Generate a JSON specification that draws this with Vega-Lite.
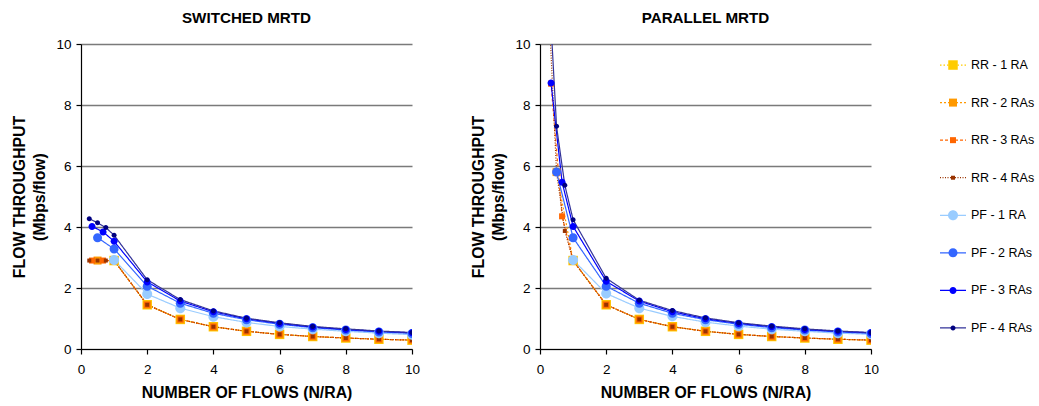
{
  "$schema": "https://vega.github.io/schema/vega-lite/v6.json",
  "background": "white",
  "padding": {"left": 11, "top": 10, "right": 0, "bottom": 0},
  "config": {
    "view": {"stroke": null},
    "font": "Liberation Sans",
    "axis": {
      "domainColor": "#000", "tickColor": "#000", "labelColor": "#000", "titleColor": "#000",
      "labelFont": "Liberation Sans", "titleFont": "Liberation Sans", "labelFontSize": 13.5,
      "titleFontSize": 15.8, "titleFontWeight": "bold", "tickSize": 5, "labelPadding": 5, "domainWidth": 1.2, "tickWidth": 1.2,
      "labelFlush": false
    },
    "title": {"font": "Liberation Sans", "fontSize": 15.2, "fontWeight": "bold", "color": "#000", "anchor": "middle", "offset": 11}
  },
  "datasets": {
    "main": [
      {"panel": "S", "series": "RR - 1 RA", "x": 1, "y": 2.9},
      {"panel": "S", "series": "RR - 1 RA", "x": 2, "y": 1.45},
      {"panel": "S", "series": "RR - 1 RA", "x": 3, "y": 0.97},
      {"panel": "S", "series": "RR - 1 RA", "x": 4, "y": 0.73},
      {"panel": "S", "series": "RR - 1 RA", "x": 5, "y": 0.58},
      {"panel": "S", "series": "RR - 1 RA", "x": 6, "y": 0.48},
      {"panel": "S", "series": "RR - 1 RA", "x": 7, "y": 0.41},
      {"panel": "S", "series": "RR - 1 RA", "x": 8, "y": 0.36},
      {"panel": "S", "series": "RR - 1 RA", "x": 9, "y": 0.32},
      {"panel": "S", "series": "RR - 1 RA", "x": 10, "y": 0.29},
      {"panel": "S", "series": "RR - 2 RAs", "x": 0.5, "y": 2.9},
      {"panel": "S", "series": "RR - 2 RAs", "x": 1, "y": 2.9},
      {"panel": "S", "series": "RR - 2 RAs", "x": 2, "y": 1.45},
      {"panel": "S", "series": "RR - 2 RAs", "x": 3, "y": 0.97},
      {"panel": "S", "series": "RR - 2 RAs", "x": 4, "y": 0.73},
      {"panel": "S", "series": "RR - 2 RAs", "x": 5, "y": 0.58},
      {"panel": "S", "series": "RR - 2 RAs", "x": 6, "y": 0.48},
      {"panel": "S", "series": "RR - 2 RAs", "x": 7, "y": 0.41},
      {"panel": "S", "series": "RR - 2 RAs", "x": 8, "y": 0.36},
      {"panel": "S", "series": "RR - 2 RAs", "x": 9, "y": 0.32},
      {"panel": "S", "series": "RR - 2 RAs", "x": 10, "y": 0.29},
      {"panel": "S", "series": "RR - 3 RAs", "x": 0.333, "y": 2.9},
      {"panel": "S", "series": "RR - 3 RAs", "x": 0.667, "y": 2.9},
      {"panel": "S", "series": "RR - 3 RAs", "x": 1, "y": 2.9},
      {"panel": "S", "series": "RR - 3 RAs", "x": 2, "y": 1.45},
      {"panel": "S", "series": "RR - 3 RAs", "x": 3, "y": 0.97},
      {"panel": "S", "series": "RR - 3 RAs", "x": 4, "y": 0.73},
      {"panel": "S", "series": "RR - 3 RAs", "x": 5, "y": 0.58},
      {"panel": "S", "series": "RR - 3 RAs", "x": 6, "y": 0.48},
      {"panel": "S", "series": "RR - 3 RAs", "x": 7, "y": 0.41},
      {"panel": "S", "series": "RR - 3 RAs", "x": 8, "y": 0.36},
      {"panel": "S", "series": "RR - 3 RAs", "x": 9, "y": 0.32},
      {"panel": "S", "series": "RR - 3 RAs", "x": 10, "y": 0.29},
      {"panel": "S", "series": "RR - 4 RAs", "x": 0.25, "y": 2.9},
      {"panel": "S", "series": "RR - 4 RAs", "x": 0.5, "y": 2.9},
      {"panel": "S", "series": "RR - 4 RAs", "x": 0.75, "y": 2.9},
      {"panel": "S", "series": "RR - 4 RAs", "x": 1, "y": 2.9},
      {"panel": "S", "series": "RR - 4 RAs", "x": 2, "y": 1.45},
      {"panel": "S", "series": "RR - 4 RAs", "x": 3, "y": 0.97},
      {"panel": "S", "series": "RR - 4 RAs", "x": 4, "y": 0.73},
      {"panel": "S", "series": "RR - 4 RAs", "x": 5, "y": 0.58},
      {"panel": "S", "series": "RR - 4 RAs", "x": 6, "y": 0.48},
      {"panel": "S", "series": "RR - 4 RAs", "x": 7, "y": 0.41},
      {"panel": "S", "series": "RR - 4 RAs", "x": 8, "y": 0.36},
      {"panel": "S", "series": "RR - 4 RAs", "x": 9, "y": 0.32},
      {"panel": "S", "series": "RR - 4 RAs", "x": 10, "y": 0.29},
      {"panel": "S", "series": "PF - 1 RA", "x": 1, "y": 2.92},
      {"panel": "S", "series": "PF - 1 RA", "x": 2, "y": 1.8},
      {"panel": "S", "series": "PF - 1 RA", "x": 3, "y": 1.34},
      {"panel": "S", "series": "PF - 1 RA", "x": 4, "y": 1.06},
      {"panel": "S", "series": "PF - 1 RA", "x": 5, "y": 0.87},
      {"panel": "S", "series": "PF - 1 RA", "x": 6, "y": 0.74},
      {"panel": "S", "series": "PF - 1 RA", "x": 7, "y": 0.65},
      {"panel": "S", "series": "PF - 1 RA", "x": 8, "y": 0.58},
      {"panel": "S", "series": "PF - 1 RA", "x": 9, "y": 0.52},
      {"panel": "S", "series": "PF - 1 RA", "x": 10, "y": 0.47},
      {"panel": "S", "series": "PF - 2 RAs", "x": 0.5, "y": 3.65},
      {"panel": "S", "series": "PF - 2 RAs", "x": 1, "y": 3.28},
      {"panel": "S", "series": "PF - 2 RAs", "x": 2, "y": 2.06},
      {"panel": "S", "series": "PF - 2 RAs", "x": 3, "y": 1.5},
      {"panel": "S", "series": "PF - 2 RAs", "x": 4, "y": 1.17},
      {"panel": "S", "series": "PF - 2 RAs", "x": 5, "y": 0.96},
      {"panel": "S", "series": "PF - 2 RAs", "x": 6, "y": 0.81},
      {"panel": "S", "series": "PF - 2 RAs", "x": 7, "y": 0.7},
      {"panel": "S", "series": "PF - 2 RAs", "x": 8, "y": 0.62},
      {"panel": "S", "series": "PF - 2 RAs", "x": 9, "y": 0.56},
      {"panel": "S", "series": "PF - 2 RAs", "x": 10, "y": 0.51},
      {"panel": "S", "series": "PF - 3 RAs", "x": 0.333, "y": 4.02},
      {"panel": "S", "series": "PF - 3 RAs", "x": 0.667, "y": 3.84},
      {"panel": "S", "series": "PF - 3 RAs", "x": 1, "y": 3.53},
      {"panel": "S", "series": "PF - 3 RAs", "x": 2, "y": 2.2},
      {"panel": "S", "series": "PF - 3 RAs", "x": 3, "y": 1.57},
      {"panel": "S", "series": "PF - 3 RAs", "x": 4, "y": 1.22},
      {"panel": "S", "series": "PF - 3 RAs", "x": 5, "y": 0.99},
      {"panel": "S", "series": "PF - 3 RAs", "x": 6, "y": 0.84},
      {"panel": "S", "series": "PF - 3 RAs", "x": 7, "y": 0.72},
      {"panel": "S", "series": "PF - 3 RAs", "x": 8, "y": 0.64},
      {"panel": "S", "series": "PF - 3 RAs", "x": 9, "y": 0.58},
      {"panel": "S", "series": "PF - 3 RAs", "x": 10, "y": 0.53},
      {"panel": "S", "series": "PF - 4 RAs", "x": 0.25, "y": 4.27},
      {"panel": "S", "series": "PF - 4 RAs", "x": 0.5, "y": 4.14},
      {"panel": "S", "series": "PF - 4 RAs", "x": 0.75, "y": 3.98},
      {"panel": "S", "series": "PF - 4 RAs", "x": 1, "y": 3.73},
      {"panel": "S", "series": "PF - 4 RAs", "x": 2, "y": 2.27},
      {"panel": "S", "series": "PF - 4 RAs", "x": 3, "y": 1.62},
      {"panel": "S", "series": "PF - 4 RAs", "x": 4, "y": 1.25},
      {"panel": "S", "series": "PF - 4 RAs", "x": 5, "y": 1.01},
      {"panel": "S", "series": "PF - 4 RAs", "x": 6, "y": 0.86},
      {"panel": "S", "series": "PF - 4 RAs", "x": 7, "y": 0.74},
      {"panel": "S", "series": "PF - 4 RAs", "x": 8, "y": 0.66},
      {"panel": "S", "series": "PF - 4 RAs", "x": 9, "y": 0.59},
      {"panel": "S", "series": "PF - 4 RAs", "x": 10, "y": 0.54},

      {"panel": "P", "series": "RR - 1 RA", "x": 1, "y": 2.9},
      {"panel": "P", "series": "RR - 1 RA", "x": 2, "y": 1.45},
      {"panel": "P", "series": "RR - 1 RA", "x": 3, "y": 0.97},
      {"panel": "P", "series": "RR - 1 RA", "x": 4, "y": 0.73},
      {"panel": "P", "series": "RR - 1 RA", "x": 5, "y": 0.58},
      {"panel": "P", "series": "RR - 1 RA", "x": 6, "y": 0.48},
      {"panel": "P", "series": "RR - 1 RA", "x": 7, "y": 0.41},
      {"panel": "P", "series": "RR - 1 RA", "x": 8, "y": 0.36},
      {"panel": "P", "series": "RR - 1 RA", "x": 9, "y": 0.32},
      {"panel": "P", "series": "RR - 1 RA", "x": 10, "y": 0.29},
      {"panel": "P", "series": "RR - 2 RAs", "x": 0.5, "y": 5.8},
      {"panel": "P", "series": "RR - 2 RAs", "x": 1, "y": 2.9},
      {"panel": "P", "series": "RR - 2 RAs", "x": 2, "y": 1.45},
      {"panel": "P", "series": "RR - 2 RAs", "x": 3, "y": 0.97},
      {"panel": "P", "series": "RR - 2 RAs", "x": 4, "y": 0.73},
      {"panel": "P", "series": "RR - 2 RAs", "x": 5, "y": 0.58},
      {"panel": "P", "series": "RR - 2 RAs", "x": 6, "y": 0.48},
      {"panel": "P", "series": "RR - 2 RAs", "x": 7, "y": 0.41},
      {"panel": "P", "series": "RR - 2 RAs", "x": 8, "y": 0.36},
      {"panel": "P", "series": "RR - 2 RAs", "x": 9, "y": 0.32},
      {"panel": "P", "series": "RR - 2 RAs", "x": 10, "y": 0.29},
      {"panel": "P", "series": "RR - 3 RAs", "x": 0.333, "y": 8.7},
      {"panel": "P", "series": "RR - 3 RAs", "x": 0.667, "y": 4.35},
      {"panel": "P", "series": "RR - 3 RAs", "x": 1, "y": 2.9},
      {"panel": "P", "series": "RR - 3 RAs", "x": 2, "y": 1.45},
      {"panel": "P", "series": "RR - 3 RAs", "x": 3, "y": 0.97},
      {"panel": "P", "series": "RR - 3 RAs", "x": 4, "y": 0.73},
      {"panel": "P", "series": "RR - 3 RAs", "x": 5, "y": 0.58},
      {"panel": "P", "series": "RR - 3 RAs", "x": 6, "y": 0.48},
      {"panel": "P", "series": "RR - 3 RAs", "x": 7, "y": 0.41},
      {"panel": "P", "series": "RR - 3 RAs", "x": 8, "y": 0.36},
      {"panel": "P", "series": "RR - 3 RAs", "x": 9, "y": 0.32},
      {"panel": "P", "series": "RR - 3 RAs", "x": 10, "y": 0.29},
      {"panel": "P", "series": "RR - 4 RAs", "x": 0.25, "y": 11.6},
      {"panel": "P", "series": "RR - 4 RAs", "x": 0.5, "y": 5.8},
      {"panel": "P", "series": "RR - 4 RAs", "x": 0.75, "y": 3.87},
      {"panel": "P", "series": "RR - 4 RAs", "x": 1, "y": 2.9},
      {"panel": "P", "series": "RR - 4 RAs", "x": 2, "y": 1.45},
      {"panel": "P", "series": "RR - 4 RAs", "x": 3, "y": 0.97},
      {"panel": "P", "series": "RR - 4 RAs", "x": 4, "y": 0.73},
      {"panel": "P", "series": "RR - 4 RAs", "x": 5, "y": 0.58},
      {"panel": "P", "series": "RR - 4 RAs", "x": 6, "y": 0.48},
      {"panel": "P", "series": "RR - 4 RAs", "x": 7, "y": 0.41},
      {"panel": "P", "series": "RR - 4 RAs", "x": 8, "y": 0.36},
      {"panel": "P", "series": "RR - 4 RAs", "x": 9, "y": 0.32},
      {"panel": "P", "series": "RR - 4 RAs", "x": 10, "y": 0.29},
      {"panel": "P", "series": "PF - 1 RA", "x": 1, "y": 2.92},
      {"panel": "P", "series": "PF - 1 RA", "x": 2, "y": 1.82},
      {"panel": "P", "series": "PF - 1 RA", "x": 3, "y": 1.34},
      {"panel": "P", "series": "PF - 1 RA", "x": 4, "y": 1.07},
      {"panel": "P", "series": "PF - 1 RA", "x": 5, "y": 0.88},
      {"panel": "P", "series": "PF - 1 RA", "x": 6, "y": 0.75},
      {"panel": "P", "series": "PF - 1 RA", "x": 7, "y": 0.65},
      {"panel": "P", "series": "PF - 1 RA", "x": 8, "y": 0.58},
      {"panel": "P", "series": "PF - 1 RA", "x": 9, "y": 0.52},
      {"panel": "P", "series": "PF - 1 RA", "x": 10, "y": 0.48},
      {"panel": "P", "series": "PF - 2 RAs", "x": 0.5, "y": 5.8},
      {"panel": "P", "series": "PF - 2 RAs", "x": 1, "y": 3.65},
      {"panel": "P", "series": "PF - 2 RAs", "x": 2, "y": 2.06},
      {"panel": "P", "series": "PF - 2 RAs", "x": 3, "y": 1.5},
      {"panel": "P", "series": "PF - 2 RAs", "x": 4, "y": 1.17},
      {"panel": "P", "series": "PF - 2 RAs", "x": 5, "y": 0.96},
      {"panel": "P", "series": "PF - 2 RAs", "x": 6, "y": 0.81},
      {"panel": "P", "series": "PF - 2 RAs", "x": 7, "y": 0.7},
      {"panel": "P", "series": "PF - 2 RAs", "x": 8, "y": 0.62},
      {"panel": "P", "series": "PF - 2 RAs", "x": 9, "y": 0.56},
      {"panel": "P", "series": "PF - 2 RAs", "x": 10, "y": 0.51},
      {"panel": "P", "series": "PF - 3 RAs", "x": 0.333, "y": 8.72},
      {"panel": "P", "series": "PF - 3 RAs", "x": 0.667, "y": 5.47},
      {"panel": "P", "series": "PF - 3 RAs", "x": 1, "y": 4.02},
      {"panel": "P", "series": "PF - 3 RAs", "x": 2, "y": 2.22},
      {"panel": "P", "series": "PF - 3 RAs", "x": 3, "y": 1.57},
      {"panel": "P", "series": "PF - 3 RAs", "x": 4, "y": 1.22},
      {"panel": "P", "series": "PF - 3 RAs", "x": 5, "y": 0.99},
      {"panel": "P", "series": "PF - 3 RAs", "x": 6, "y": 0.84},
      {"panel": "P", "series": "PF - 3 RAs", "x": 7, "y": 0.73},
      {"panel": "P", "series": "PF - 3 RAs", "x": 8, "y": 0.64},
      {"panel": "P", "series": "PF - 3 RAs", "x": 9, "y": 0.58},
      {"panel": "P", "series": "PF - 3 RAs", "x": 10, "y": 0.53},
      {"panel": "P", "series": "PF - 4 RAs", "x": 0.25, "y": 12.3},
      {"panel": "P", "series": "PF - 4 RAs", "x": 0.5, "y": 7.3},
      {"panel": "P", "series": "PF - 4 RAs", "x": 0.75, "y": 5.37},
      {"panel": "P", "series": "PF - 4 RAs", "x": 1, "y": 4.24},
      {"panel": "P", "series": "PF - 4 RAs", "x": 2, "y": 2.32},
      {"panel": "P", "series": "PF - 4 RAs", "x": 3, "y": 1.6},
      {"panel": "P", "series": "PF - 4 RAs", "x": 4, "y": 1.26},
      {"panel": "P", "series": "PF - 4 RAs", "x": 5, "y": 1.02},
      {"panel": "P", "series": "PF - 4 RAs", "x": 6, "y": 0.86},
      {"panel": "P", "series": "PF - 4 RAs", "x": 7, "y": 0.75},
      {"panel": "P", "series": "PF - 4 RAs", "x": 8, "y": 0.66},
      {"panel": "P", "series": "PF - 4 RAs", "x": 9, "y": 0.59},
      {"panel": "P", "series": "PF - 4 RAs", "x": 10, "y": 0.54}
    ],
    "legend": [
      {"series": "RR - 1 RA"}, {"series": "RR - 2 RAs"}, {"series": "RR - 3 RAs"}, {"series": "RR - 4 RAs"},
      {"series": "PF - 1 RA"}, {"series": "PF - 2 RAs"}, {"series": "PF - 3 RAs"}, {"series": "PF - 4 RAs"}
    ]
  },
  "hconcat": [
    {
      "width": 331, "height": 305,
      "title": "SWITCHED MRTD",
      "data": {"name": "main"},
      "transform": [{"filter": "datum.panel == 'S'"}],
      "encoding": {
        "x": {"field": "x", "type": "quantitative", "scale": {"domain": [0, 10], "nice": false},
              "axis": {"values": [0, 2, 4, 6, 8, 10], "grid": false, "title": "NUMBER OF FLOWS (N/RA)", "labelPadding": 8, "titlePadding": 10}},
        "y": {"field": "y", "type": "quantitative", "scale": {"domain": [0, 10], "nice": false},
              "axis": {"values": [0, 2, 4, 6, 8, 10], "grid": true, "gridColor": "#7a7a7a", "gridWidth": 1.4, "title": ["FLOW THROUGHPUT", "(Mbps/flow)"], "titleLineHeight": 20, "titlePadding": 8}}
      },
      "layer": [
        {
          "mark": {"type": "line", "clip": true, "strokeWidth": 1.2},
          "encoding": {
            "stroke": {"field": "series", "type": "nominal", "legend": null,
              "scale": {"domain": ["RR - 1 RA", "RR - 2 RAs", "RR - 3 RAs", "RR - 4 RAs", "PF - 1 RA", "PF - 2 RAs", "PF - 3 RAs", "PF - 4 RAs"],
                        "range": ["#FFCC00", "#FF9900", "#FF6600", "#993300", "#99CCFF", "#3366FF", "#0000FF", "#333399"]}},
            "strokeDash": {"field": "series", "type": "nominal", "legend": null,
              "scale": {"domain": ["RR - 1 RA", "RR - 2 RAs", "RR - 3 RAs", "RR - 4 RAs", "PF - 1 RA", "PF - 2 RAs", "PF - 3 RAs", "PF - 4 RAs"],
                        "range": [[1.5, 2], [2, 2], [3, 2], [1, 1.5], [1, 0], [1, 0], [1, 0], [1, 0]]}}
          }
        },
        {
          "mark": {"type": "point", "filled": true, "clip": true, "opacity": 1, "strokeWidth": 0, "size": 100},
          "encoding": {
            "fill": {"field": "series", "type": "nominal", "legend": null,
              "scale": {"domain": ["RR - 1 RA", "RR - 2 RAs", "RR - 3 RAs", "RR - 4 RAs", "PF - 1 RA", "PF - 2 RAs", "PF - 3 RAs", "PF - 4 RAs"],
                        "range": ["#FFCC00", "#FF9900", "#FF6600", "#993300", "#99CCFF", "#3366FF", "#0000FF", "#000080"]}},
            "shape": {"field": "series", "type": "nominal", "legend": null,
              "scale": {"domain": ["RR - 1 RA", "RR - 2 RAs", "RR - 3 RAs", "RR - 4 RAs", "PF - 1 RA", "PF - 2 RAs", "PF - 3 RAs", "PF - 4 RAs"],
                        "range": [
                          "M-0.95,-0.95H0.95V0.95H-0.95Z",
                          "M-0.8,-0.8H0.8V0.8H-0.8Z",
                          "M-0.6,-0.6H0.6V0.6H-0.6Z",
                          "M-0.4,-0.4H0.4V0.4H-0.4Z",
                          "M-1,0A1,1,0,1,1,1,0A1,1,0,1,1,-1,0Z",
                          "M-0.9,0A0.9,0.9,0,1,1,0.9,0A0.9,0.9,0,1,1,-0.9,0Z",
                          "M-0.7,0A0.7,0.7,0,1,1,0.7,0A0.7,0.7,0,1,1,-0.7,0Z",
                          "M-0.5,0A0.5,0.5,0,1,1,0.5,0A0.5,0.5,0,1,1,-0.5,0Z"
                        ]}}
          }
        }
      ]
    },
    {
      "width": 331, "height": 305,
      "title": "PARALLEL MRTD",
      "data": {"name": "main"},
      "transform": [{"filter": "datum.panel == 'P'"}],
      "encoding": {
        "x": {"field": "x", "type": "quantitative", "scale": {"domain": [0, 10], "nice": false},
              "axis": {"values": [0, 2, 4, 6, 8, 10], "grid": false, "title": "NUMBER OF FLOWS (N/RA)", "labelPadding": 8, "titlePadding": 10}},
        "y": {"field": "y", "type": "quantitative", "scale": {"domain": [0, 10], "nice": false},
              "axis": {"values": [0, 2, 4, 6, 8, 10], "grid": true, "gridColor": "#7a7a7a", "gridWidth": 1.4, "title": ["FLOW THROUGHPUT", "(Mbps/flow)"], "titleLineHeight": 20, "titlePadding": 8}}
      },
      "layer": [
        {
          "mark": {"type": "line", "clip": true, "strokeWidth": 1.2},
          "encoding": {
            "stroke": {"field": "series", "type": "nominal", "legend": null},
            "strokeDash": {"field": "series", "type": "nominal", "legend": null}
          }
        },
        {
          "mark": {"type": "point", "filled": true, "clip": true, "opacity": 1, "strokeWidth": 0, "size": 100},
          "encoding": {
            "fill": {"field": "series", "type": "nominal", "legend": null},
            "shape": {"field": "series", "type": "nominal", "legend": null}
          }
        }
      ]
    },
    {
      "width": 98, "height": 305,
      "data": {"name": "legend"},
      "encoding": {
        "y": {"field": "series", "type": "nominal", "axis": null,
              "scale": {"type": "point", "padding": 0.56, "domain": ["RR - 1 RA", "RR - 2 RAs", "RR - 3 RAs", "RR - 4 RAs", "PF - 1 RA", "PF - 2 RAs", "PF - 3 RAs", "PF - 4 RAs"]}}
      },
      "layer": [
        {
          "mark": {"type": "rule", "strokeWidth": 1.2},
          "encoding": {
            "x": {"datum": 11, "type": "quantitative", "scale": {"domain": [0, 98], "nice": false}, "axis": null},
            "x2": {"datum": 37},
            "stroke": {"field": "series", "type": "nominal", "legend": null},
            "strokeDash": {"field": "series", "type": "nominal", "legend": null}
          }
        },
        {
          "mark": {"type": "point", "filled": true, "opacity": 1, "strokeWidth": 0, "size": 100},
          "encoding": {
            "x": {"datum": 24, "type": "quantitative"},
            "fill": {"field": "series", "type": "nominal", "legend": null},
            "shape": {"field": "series", "type": "nominal", "legend": null}
          }
        },
        {
          "mark": {"type": "text", "align": "left", "baseline": "middle", "fontSize": 12.5, "font": "Liberation Sans", "color": "#000"},
          "encoding": {
            "x": {"datum": 42, "type": "quantitative"},
            "text": {"field": "series", "type": "nominal"}
          }
        }
      ]
    }
  ],
  "spacing": 50
}
